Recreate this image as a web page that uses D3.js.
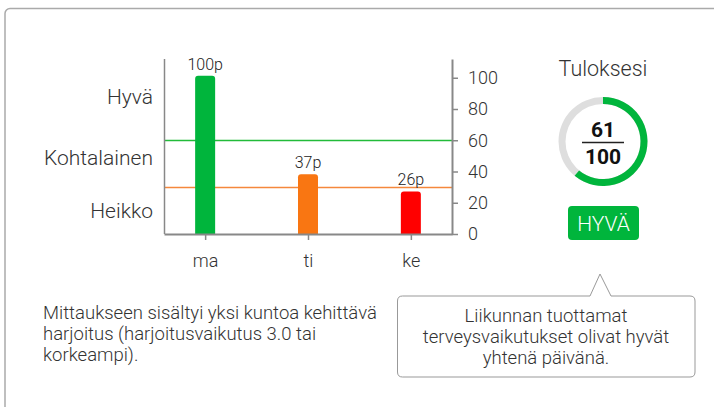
<!DOCTYPE html>
<html>
<head>
<meta charset="utf-8">
<script src="https://cdn.jsdelivr.net/npm/d3@7"></script>
<style>
  html, body { margin: 0; padding: 0; background: #fff; }
  svg { display: block; }
  text { font-family: Roboto, "Noto Sans", sans-serif; }
</style>
</head>
<body>
<svg id="chart" width="714" height="407"></svg>
<script>
// ---- data ----
const days = ["ma", "ti", "ke"];
const dayValues = [100, 37, 26];
const dayColors = ["#00b53c", "#f97612", "#ff0000"];
const yTicks = [0, 20, 40, 60, 80, 100];
const thresholds = [60, 30];
const thresholdColors = ["#22bb3a", "#f5883c"];
const levelLabels = ["Hyvä", "Kohtalainen", "Heikko"];
const levelValues = [88, 49, 15];
const score = 61;
const scoreMax = 100;
const scoreTitle = "Tuloksesi";
const scoreBadge = "HYVÄ";
const noteLines = ["Mittaukseen sisältyi yksi kuntoa kehittävä", "harjoitus (harjoitusvaikutus 3.0 tai", "korkeampi)."];
const calloutLines = ["Liikunnan tuottamat", "terveysvaikutukset olivat hyvät", "yhtenä päivänä."];

const svg = d3.select("#chart");

// card
svg.append("rect").attr("x", 5).attr("y", 8.5).attr("width", 760).attr("height", 440)
  .attr("rx", 5).attr("fill", "#fff").attr("stroke", "#aaa").attr("stroke-width", 1.5);

// scales
const y = d3.scaleLinear().domain([0, 112]).range([234, 59]);
const x = d3.scalePoint().domain(days).range([164, 452]).padding(0.4);

// threshold lines
svg.selectAll("line.thr").data(thresholds).join("line").attr("class", "thr")
  .attr("x1", 164).attr("x2", 452)
  .attr("y1", d => Math.round(y(d)) + 0.5).attr("y2", d => Math.round(y(d)) + 0.5)
  .style("stroke", (d, i) => thresholdColors[i]).attr("stroke-width", 1.3);

// bars
const barW = 20;
svg.selectAll("path.bar").data(dayValues).join("path").attr("class", "bar")
  .attr("fill", (d, i) => dayColors[i])
  .attr("d", (d, i) => {
    const x0 = x(days[i]) - barW / 2, x1 = x0 + barW;
    const top = y(d) - 2, bot = y(0), r = 3;
    return `M${x0},${bot}V${top + r}Q${x0},${top} ${x0 + r},${top}H${x1 - r}Q${x1},${top} ${x1},${top + r}V${bot}Z`;
  });

svg.selectAll("text.blab").data(dayValues).join("text").attr("class", "blab")
  .attr("x", (d, i) => x(days[i])).attr("y", d => y(d) - 8)
  .attr("text-anchor", "middle").attr("font-size", 16).attr("font-weight", 300).attr("fill", "#222")
  .text(d => d + "p");

// left axis line
svg.append("line").attr("x1", 164.5).attr("x2", 164.5).attr("y1", y.range()[1]).attr("y2", y.range()[0])
  .attr("stroke", "#888").attr("stroke-width", 1.5);

// right axis
const yAxis = svg.append("g").attr("transform", "translate(452,0)")
  .call(d3.axisRight(y).tickValues(yTicks).tickSize(6).tickSizeOuter(0).tickPadding(10));
yAxis.select(".domain").attr("stroke", "#888").attr("stroke-width", 2);
yAxis.selectAll(".tick line").attr("stroke", "#888").attr("stroke-width", 1.5);
yAxis.selectAll(".tick text").attr("font-size", 18).attr("font-weight", 300)
  .attr("fill", "#333").attr("font-family", "Roboto, sans-serif");

// bottom axis
const xAxis = svg.append("g").attr("transform", "translate(0,234)")
  .call(d3.axisBottom(x).tickSize(6).tickSizeOuter(0).tickPadding(14));
xAxis.select(".domain").attr("stroke", "#888").attr("stroke-width", 2);
xAxis.selectAll(".tick line").attr("stroke", "#888").attr("stroke-width", 1.5);
xAxis.selectAll(".tick text").attr("font-size", 18).attr("font-weight", 300)
  .attr("fill", "#333").attr("font-family", "Roboto, sans-serif");

// level labels
svg.selectAll("text.lvl").data(levelLabels).join("text").attr("class", "lvl")
  .attr("x", 153).attr("y", (d, i) => y(levelValues[i])).attr("dy", "0.35em")
  .attr("text-anchor", "end").attr("font-size", 21).attr("font-weight", 300).attr("fill", "#333")
  .text(d => d);

// score gauge
const cx = 603, cy = 141.5;
svg.append("text").attr("x", cx).attr("y", 76).attr("text-anchor", "middle")
  .attr("font-size", 21.5).attr("font-weight", 300).attr("fill", "#333").text(scoreTitle);
const arc = d3.arc().innerRadius(37.5).outerRadius(44.5);
const g = svg.append("g").attr("transform", `translate(${cx},${cy})`);
g.append("path").attr("d", arc({startAngle: 0, endAngle: 2 * Math.PI})).attr("fill", "#dedede");
g.append("path").attr("d", arc({startAngle: 0, endAngle: 2 * Math.PI * score / scoreMax})).attr("fill", "#00b53c");
g.append("text").attr("y", -5).attr("text-anchor", "middle").attr("font-size", 21).attr("font-weight", 700)
  .attr("font-family", "'Liberation Sans', Arial, sans-serif").attr("fill", "#111").text(score);
g.append("line").attr("x1", -21).attr("x2", 21).attr("y1", 1).attr("y2", 1).attr("stroke", "#222").attr("stroke-width", 1.5);
g.append("text").attr("y", 22.5).attr("text-anchor", "middle").attr("font-size", 21).attr("font-weight", 700)
  .attr("font-family", "'Liberation Sans', Arial, sans-serif").attr("fill", "#111").text(scoreMax);

// badge
svg.append("rect").attr("x", 568).attr("y", 206).attr("width", 71).attr("height", 34).attr("rx", 4).attr("fill", "#00b53c");
svg.append("text").attr("x", 603.5).attr("y", 231).attr("text-anchor", "middle").attr("font-size", 21)
  .attr("font-weight", 300).attr("fill", "#fff").text(scoreBadge);

// note text
svg.selectAll("text.note").data(noteLines).join("text").attr("class", "note")
  .attr("x", 43).attr("y", (d, i) => 319 + i * 21).attr("font-size", 18.5).attr("font-weight", 300).attr("fill", "#333")
  .text(d => d);

// callout
const bx0 = 397.5, bx1 = 695, by0 = 296, by1 = 377, br = 5, px0 = 590, px1 = 611, pax = 600, pay = 274;
svg.append("path").attr("fill", "#fff").attr("stroke", "#999").attr("stroke-width", 1)
  .attr("d", `M${bx0 + br},${by0}H${px0}L${pax},${pay}L${px1},${by0}H${bx1 - br}Q${bx1},${by0} ${bx1},${by0 + br}V${by1 - br}Q${bx1},${by1} ${bx1 - br},${by1}H${bx0 + br}Q${bx0},${by1} ${bx0},${by1 - br}V${by0 + br}Q${bx0},${by0} ${bx0 + br},${by0}Z`);
svg.selectAll("text.call").data(calloutLines).join("text").attr("class", "call")
  .attr("x", 546).attr("y", (d, i) => 322 + i * 21).attr("text-anchor", "middle")
  .attr("font-size", 18.5).attr("font-weight", 300).attr("fill", "#333")
  .text(d => d);
</script>
</body>
</html>
